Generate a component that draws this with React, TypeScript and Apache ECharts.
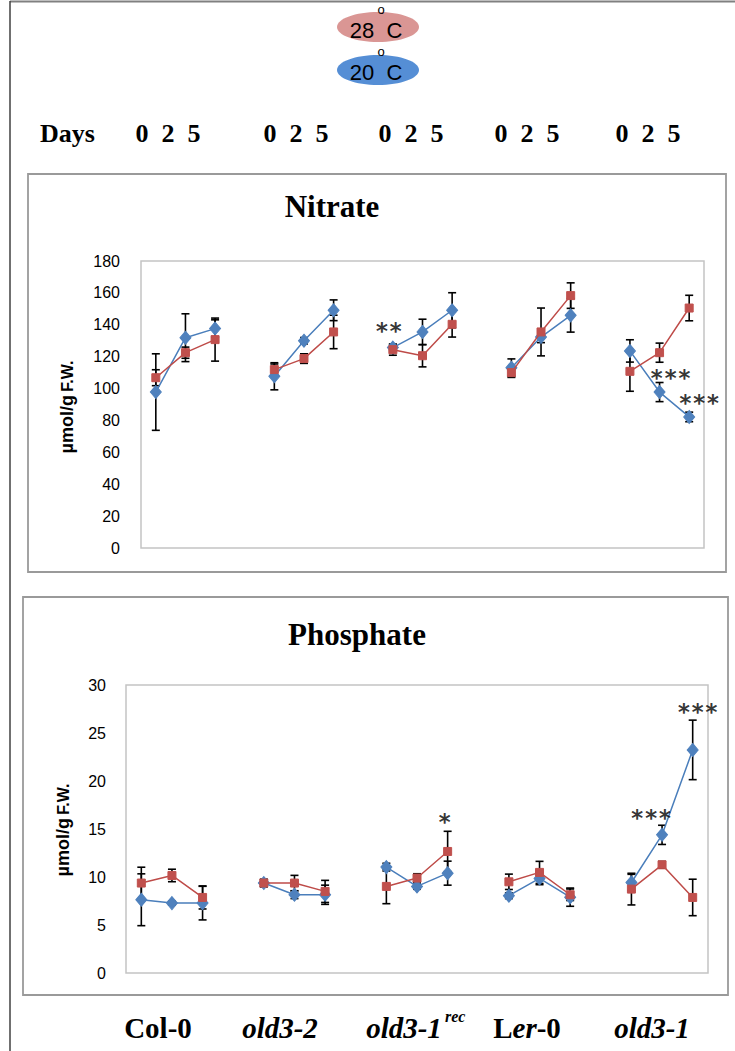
import React, { useEffect, useRef } from "react";
import * as echarts from "echarts";

// ---------- data ----------
const groups = ["Col-0", "old3-2", "old3-1rec", "Ler-0", "old3-1"];
const days = ["0", "2", "5"];

const nitrate20 = [97.8, 131.9, 137.6, 107.7, 130.0, 149.1, 125.7, 135.5, 149.1, 113.1, 132.3, 145.9, 123.6, 97.8, 82.2];
const nitrate20Err = [24, 15, 5.5, 8.5, 2, 6.5, 2, 8, 11, 5.5, 3.5, 10.5, 7, 6, 3];
const nitrate28 = [106.8, 122.5, 130.7, 111.9, 118.8, 135.5, 124.4, 120.6, 140.3, 110.0, 135.5, 158.3, 110.8, 122.5, 150.5];
const nitrate28Err = [5, 3.5, 13.5, 3.5, 3, 10.5, 3.5, 7, 8, 3, 15, 8, 12.5, 6, 8];

const phosphate20 = [7.63, 7.28, 7.28, 9.37, 8.15, 8.15, 11.03, 9.02, 10.4, 8.05, 9.85, 7.9, 9.43, 14.39, 23.24];
const phosphate20Err = [2.7, 0.2, 1.75, 0.35, 0.4, 1.0, 0.4, 0.3, 1.25, 0.3, 0.65, 0.95, 0.85, 1.0, 3.1];
const phosphate28 = [9.37, 10.16, 7.87, 9.37, 9.37, 8.5, 9.02, 9.89, 12.66, 9.5, 10.48, 8.15, 8.74, 11.27, 7.87];
const phosphate28Err = [1.65, 0.65, 1.2, 0.4, 0.8, 1.15, 1.8, 0.45, 2.1, 0.8, 1.15, 0.6, 1.65, 0.35, 1.9];

const nitrateTicks = { min: 0, max: 180, interval: 20 };
const phosphateTicks = { min: 0, max: 30, interval: 5 };

// significance marks: [point index (group*3+day), value level, text]
const nitrateSig: [number, number, string][] = [
  [6, 139, "**"],
  [13, 110, "***"],
  [14, 94, "***"],
];
const phosphateSig: [number, number, string][] = [
  [8, 16.2, "*"],
  [13, 16.7, "***"],
  [14, 27.7, "***"],
];

const legendLabels = ["28", "20"];

// ---------- helpers ----------
const categories: string[] = [];
groups.forEach((g, gi) => {
  days.forEach((d) => categories.push(`${g} day ${d}`));
  if (gi < groups.length - 1) categories.push(`gap ${gi}`);
});
const catIndex = (i: number) => Math.floor(i / 3) * 4 + (i % 3);
const lineData = (vals: number[]) => {
  const out: (number | null)[] = categories.map(() => null);
  vals.forEach((v, i) => (out[catIndex(i)] = v));
  return out;
};
const errData = (vals: number[], errs: number[]) => vals.map((v, i) => [catIndex(i), v, errs[i]]);

const BLUE = "#4A7EBB";
const RED = "#BE4B48";
const BLUE_M = "#4F81BD";
const RED_M = "#C0504D";

const errorSeries = (vals: number[], errs: number[], axis: number) => ({
  type: "custom",
  xAxisIndex: axis,
  yAxisIndex: axis,
  z: 1,
  silent: true,
  encode: { x: 0, y: 1 },
  data: errData(vals, errs),
  renderItem: (_p: any, api: any) => {
    const x = api.value(0);
    const v = api.value(1);
    const e = api.value(2);
    const t = api.coord([x, v + e]);
    const b = api.coord([x, v - e]);
    const c = 4;
    const st = { stroke: "#000", lineWidth: 1.6 };
    return {
      type: "group",
      children: [
        { type: "line", shape: { x1: t[0], y1: t[1], x2: b[0], y2: b[1] }, style: st },
        { type: "line", shape: { x1: t[0] - c, y1: t[1], x2: t[0] + c, y2: t[1] }, style: st },
        { type: "line", shape: { x1: b[0] - c, y1: b[1], x2: b[0] + c, y2: b[1] }, style: st },
      ],
    };
  },
});

const lineSeries = (name: string, vals: number[], axis: number, color: string, mcolor: string, symbol: string, size: any, z: number) => ({
  type: "line",
  name,
  xAxisIndex: axis,
  yAxisIndex: axis,
  data: lineData(vals),
  connectNulls: false,
  symbol,
  symbolSize: size,
  showAllSymbol: true,
  z,
  lineStyle: { color, width: 1.5 },
  itemStyle: { color: mcolor, borderColor: mcolor },
});

const sigSeries = (marks: [number, number, string][], axis: number, offsets: number[][]) => ({
  type: "scatter",
  xAxisIndex: axis,
  yAxisIndex: axis,
  symbolSize: 0,
  z: 5,
  silent: true,
  data: marks.map((m, i) => ({
    value: [catIndex(m[0]), m[1]],
    label: {
      show: true,
      position: "inside",
      formatter: m[2],
      offset: offsets[i],
      fontFamily: "DejaVu Sans Mono",
      fontWeight: "bold",
      fontSize: 23,
      color: "#000",
    },
  })),
});

const yAxisBase = (t: { min: number; max: number; interval: number }, axis: number, margin: number) => ({
  type: "value",
  gridIndex: axis,
  min: t.min,
  max: t.max,
  interval: t.interval,
  axisLine: { show: false },
  axisTick: { show: false },
  splitLine: { show: false },
  axisLabel: { fontFamily: "Liberation Sans", fontSize: 16, color: "#000", margin },
});

const xAxisBase = (axis: number) => ({
  type: "category",
  gridIndex: axis,
  data: categories,
  boundaryGap: true,
  axisLine: { show: false },
  axisTick: { show: false },
  axisLabel: { show: false },
  splitLine: { show: false },
});

const serifBold = (size: number) => ({
  fontFamily: "Liberation Serif",
  fontWeight: "bold",
  fontSize: size,
  fill: "#000",
});

const yName = (x: number, y: number) => ({
  type: "text", x, y, rotation: Math.PI / 2,
  style: {
    text: "{a|µmol/g} {b|F.W.}", align: "center", verticalAlign: "middle",
    rich: {
      a: { fontFamily: "Liberation Sans", fontWeight: "bold", fontSize: 18, fill: "#000" },
      b: { fontFamily: "Liberation Sans", fontWeight: "bold", fontSize: 16, fill: "#000" },
    },
  },
});

export default function App() {
  const ref = useRef<HTMLDivElement>(null);
  useEffect(() => {
    if (!ref.current) return;
    const chart = echarts.init(ref.current, null, { renderer: "svg" });

    const dayPositions = [168, 296, 411, 527, 648];
    const graphic: any[] = [
      // outer frame lines
      { type: "line", shape: { x1: 10, y1: 1.5, x2: 735, y2: 1.5 }, style: { stroke: "#808080", lineWidth: 2 } },
      { type: "line", shape: { x1: 10, y1: 1, x2: 10, y2: 1051 }, style: { stroke: "#404040", lineWidth: 1.5 } },
      // panel boxes
      { type: "rect", shape: { x: 28, y: 174, width: 698, height: 398 }, style: { fill: "none", stroke: "#9a9a9a", lineWidth: 1.8 } },
      { type: "rect", shape: { x: 23, y: 597, width: 705, height: 398 }, style: { fill: "none", stroke: "#9a9a9a", lineWidth: 1.8 } },
      // legend
      { type: "ellipse", shape: { cx: 378, cy: 27, rx: 41, ry: 15 }, style: { fill: "#DA9694" } },
      { type: "ellipse", shape: { cx: 378, cy: 70, rx: 41, ry: 15 }, style: { fill: "#558ED5" } },
      { type: "text", x: 376, y: 30, style: { text: `${legendLabels[0]}  C`, fontFamily: "Liberation Sans", fontSize: 22, fill: "#000", align: "center", verticalAlign: "middle" } },
      { type: "text", x: 381, y: 9, style: { text: "o", fontFamily: "Liberation Sans", fontSize: 13, fill: "#000", align: "center", verticalAlign: "middle" } },
      { type: "text", x: 376, y: 72, style: { text: `${legendLabels[1]}  C`, fontFamily: "Liberation Sans", fontSize: 22, fill: "#000", align: "center", verticalAlign: "middle" } },
      { type: "text", x: 381, y: 51, style: { text: "o", fontFamily: "Liberation Sans", fontSize: 13, fill: "#000", align: "center", verticalAlign: "middle" } },
      // days row
      { type: "text", x: 40, y: 133, style: { ...serifBold(26), text: "Days", align: "left", verticalAlign: "middle" } },
      ...dayPositions.map((x) => ({
        type: "text",
        x,
        y: 133,
        style: { ...serifBold(26), text: days.join("  "), align: "center", verticalAlign: "middle" },
      })),
      // titles
      { type: "text", x: 332, y: 206, style: { ...serifBold(31), text: "Nitrate", align: "center", verticalAlign: "middle" } },
      { type: "text", x: 357, y: 634, style: { ...serifBold(31), text: "Phosphate", align: "center", verticalAlign: "middle" } },
      // y axis names
      yName(67, 407),
      yName(63, 830),
      // bottom genotype labels
      { type: "text", x: 158, y: 1028, style: { ...serifBold(29), text: groups[0], align: "center", verticalAlign: "middle" } },
      { type: "text", x: 280, y: 1028, style: { ...serifBold(29), fontStyle: "italic", text: groups[1], align: "center", verticalAlign: "middle" } },
      { type: "text", x: 404, y: 1028, style: { ...serifBold(29), fontStyle: "italic", text: "old3-1", align: "center", verticalAlign: "middle" } },
      { type: "text", x: 445, y: 1016, style: { ...serifBold(16), fontStyle: "italic", text: "rec", align: "left", verticalAlign: "middle" } },
      {
        type: "text", x: 527, y: 1028,
        style: {
          text: "{n|L}{i|er}{n|-0}", align: "center", verticalAlign: "middle",
          rich: {
            n: { fontFamily: "Liberation Serif", fontWeight: "bold", fontSize: 29, fill: "#000" },
            i: { fontFamily: "Liberation Serif", fontWeight: "bold", fontStyle: "italic", fontSize: 29, fill: "#000" },
          },
        },
      },
      { type: "text", x: 652, y: 1028, style: { ...serifBold(29), fontStyle: "italic", text: groups[4], align: "center", verticalAlign: "middle" } },
    ];

    chart.setOption({
      animation: false,
      backgroundColor: "#fff",
      grid: [
        { left: 141, top: 261, width: 563, height: 287, show: true, borderColor: "#c4c4c4", borderWidth: 1.5, backgroundColor: "transparent" },
        { left: 126, top: 685, width: 582, height: 288, show: true, borderColor: "#c4c4c4", borderWidth: 1.5, backgroundColor: "transparent" },
      ],
      xAxis: [xAxisBase(0), xAxisBase(1)],
      yAxis: [yAxisBase(nitrateTicks, 0, 21), yAxisBase(phosphateTicks, 1, 20)],
      graphic,
      series: [
        errorSeries(nitrate20, nitrate20Err, 0),
        errorSeries(nitrate28, nitrate28Err, 0),
        lineSeries("20 °C", nitrate20, 0, BLUE, BLUE_M, "diamond", [11, 13], 3),
        lineSeries("28 °C", nitrate28, 0, RED, RED_M, "rect", 8, 4),
        errorSeries(phosphate20, phosphate20Err, 1),
        errorSeries(phosphate28, phosphate28Err, 1),
        lineSeries("20 °C", phosphate20, 1, BLUE, BLUE_M, "diamond", [11, 13], 3),
        lineSeries("28 °C", phosphate28, 1, RED, RED_M, "rect", 8, 4),
        sigSeries(nitrateSig, 0, [[-4, 5], [11, 5], [10, 5]]),
        sigSeries(phosphateSig, 1, [[-3, 5], [-11, 5], [5, 5]]),
      ],
    });
    return () => chart.dispose();
  }, []);
  return <div ref={ref} style={{ position: "fixed", left: 0, top: 0, width: 735, height: 1051 }} />;
}
